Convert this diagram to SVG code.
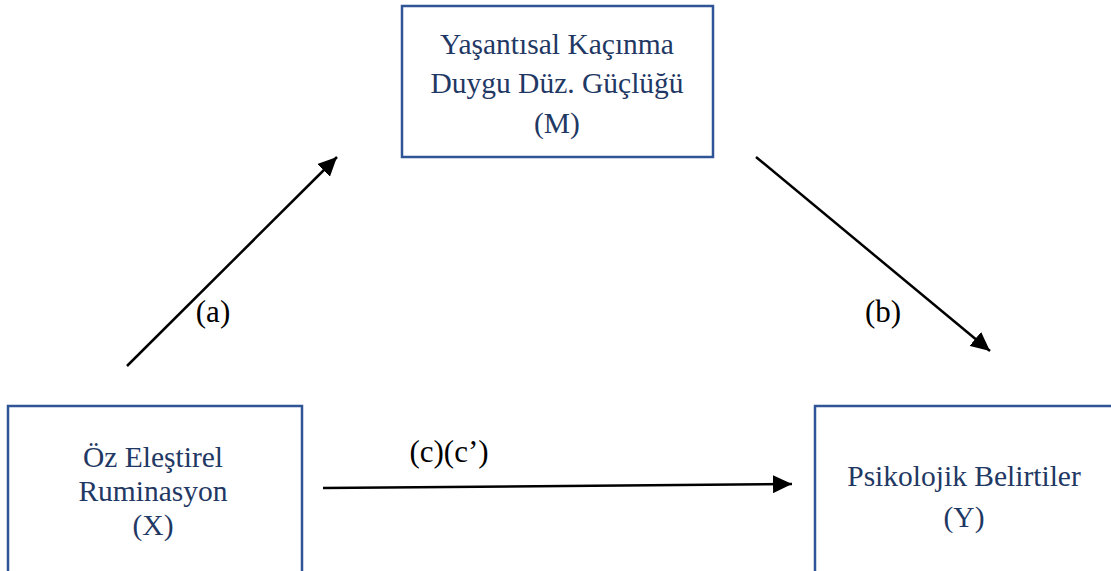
<svg xmlns="http://www.w3.org/2000/svg" width="1111" height="571" viewBox="0 0 1111 571">
<style>
.box{fill:#fff;stroke:#2f5597;stroke-width:2.5}
.t{font-family:"Liberation Serif","Times New Roman",serif;font-size:29.5px;fill:#1f3864;text-anchor:middle}
.l{font-family:"Liberation Serif","Times New Roman",serif;font-size:31px;fill:#000;text-anchor:middle}
.c{stroke:#000;stroke-width:2.5;fill:none;marker-end:url(#ah)}
</style>
<defs>
<marker id="ah" markerUnits="userSpaceOnUse" markerWidth="20" markerHeight="18" refX="19" refY="9" orient="auto">
<path d="M0,0 L19,9 L0,18 Z" fill="#000"/>
</marker>
</defs>
<rect width="1111" height="571" fill="#fff"/>
<g id="node-m">
<rect class="box" x="402" y="6" width="311" height="151"/>
<text class="t" x="557" y="54">Yaşantısal Kaçınma</text>
<text class="t" x="557" y="93">Duygu Düz. Güçlüğü</text>
<text class="t" x="557" y="133">(M)</text>
</g>
<g id="node-x">
<rect class="box" x="8" y="406" width="294" height="175"/>
<text class="t" x="153" y="467">Öz Eleştirel</text>
<text class="t" x="153" y="501">Ruminasyon</text>
<text class="t" x="153" y="535">(X)</text>
</g>
<g id="node-y">
<rect class="box" x="815" y="406" width="310" height="175"/>
<text class="t" x="964" y="486">Psikolojik Belirtiler</text>
<text class="t" x="964" y="527">(Y)</text>
</g>
<g id="connectors">
<line class="c" x1="127" y1="366" x2="337" y2="157"/>
<line class="c" x1="756" y1="157" x2="990" y2="351"/>
<line class="c" x1="323" y1="488" x2="792" y2="484"/>
<text class="l" x="213" y="322">(a)</text>
<text class="l" x="883" y="322">(b)</text>
<text class="l" x="449" y="462">(c)(c’)</text>
</g>
</svg>
